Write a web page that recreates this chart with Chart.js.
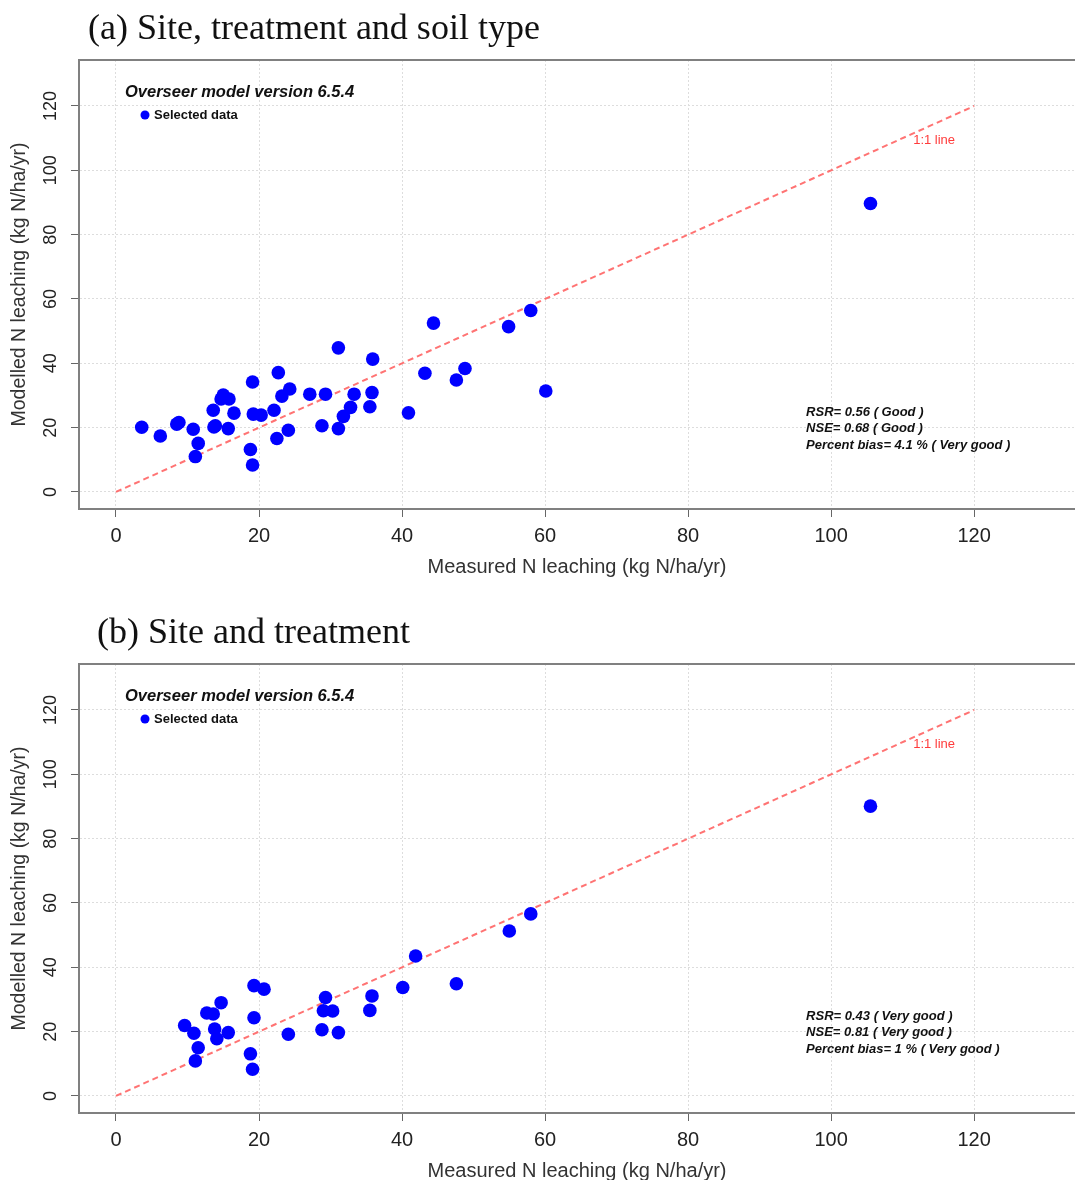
<!DOCTYPE html>
<html>
<head>
<meta charset="utf-8">
<script src="https://cdn.jsdelivr.net/npm/chart.js@4.4.1/dist/chart.umd.min.js"></script>
<style>
  html, body { margin: 0; padding: 0; background: #fff; overflow: hidden; }
  canvas { display: block; }
</style>
</head>
<body>
<canvas id="chartA" width="1075" height="604"></canvas>
<canvas id="chartB" width="1075" height="604"></canvas>
<script>
// panel (a) site, treatment and soil type
const measuredA = [3.6, 6.2, 8.5, 8.8, 10.8, 11.5, 11.1, 13.6, 13.7, 13.9, 15.0, 14.7, 15.8, 15.7, 16.5,
  19.1, 19.2, 20.3, 18.8, 19.1, 22.7, 22.1, 23.2, 24.3, 22.5, 24.1, 27.1, 29.3, 28.8, 31.1, 31.1,
  31.8, 32.8, 33.3, 35.9, 35.8, 35.5, 40.9, 43.2, 44.4, 47.6, 48.8, 54.9, 58.0, 60.1, 105.5];
const modelledA = [20.1, 17.4, 21.1, 21.6, 19.5, 15.1, 11.0, 25.4, 20.2, 20.6, 30.1, 28.9, 28.9, 19.7, 24.5,
  34.2, 24.2, 23.9, 13.2, 8.4, 37.1, 25.4, 29.8, 32.0, 16.6, 19.2, 30.4, 30.4, 20.6, 44.8, 19.7,
  23.5, 26.3, 30.4, 41.3, 30.9, 26.5, 24.6, 36.9, 52.5, 34.8, 38.4, 51.4, 56.4, 31.4, 89.7];
const statsA = ['RSR= 0.56 ( Good )', 'NSE= 0.68 ( Good )', 'Percent bias= 4.1 % ( Very good )'];

// panel (b) site and treatment
const measuredB = [9.6, 10.9, 11.5, 11.1, 12.7, 13.6, 14.7, 13.8, 14.1, 15.7, 19.3, 20.7, 19.3, 18.8, 19.1,
  24.1, 29.3, 29.0, 30.3, 28.8, 31.1, 35.8, 35.5, 40.1, 41.9, 47.6, 55.0, 58.0, 105.5];
const modelledB = [21.9, 19.5, 15.0, 10.9, 25.8, 25.5, 29.0, 20.8, 17.8, 19.7, 34.3, 33.2, 24.3, 13.1, 8.3,
  19.2, 30.6, 26.5, 26.4, 20.6, 19.7, 31.1, 26.6, 33.7, 43.5, 34.9, 51.3, 56.6, 90.1];
const statsB = ['RSR= 0.43 ( Very good )', 'NSE= 0.81 ( Very good )', 'Percent bias= 1 % ( Very good )'];

const oneToOne = [0, 120];
const xTicks = [0, 20, 40, 60, 80, 100, 120];
const yTicks = [0, 20, 40, 60, 80, 100, 120];

const sansFont = '"Liberation Sans", Arial, sans-serif';

// extra texts: panel title, box top, legend, 1:1 label and fit stats
const extras = {
  id: 'extras',
  afterDraw(chart, args, opts) {
    const { ctx, chartArea: a, scales: { x, y } } = chart;
    ctx.save();
    ctx.strokeStyle = '#808080';
    ctx.lineWidth = 2;
    ctx.beginPath();
    ctx.moveTo(a.left - 1, a.top);
    ctx.lineTo(a.right, a.top);
    ctx.stroke();

    ctx.textBaseline = 'middle';
    ctx.textAlign = 'left';
    ctx.fillStyle = '#111';
    ctx.font = '36px "Liberation Serif", "Times New Roman", serif';
    ctx.fillText(opts.title, opts.titleX, 30);

    ctx.font = 'italic bold 16.5px ' + sansFont;
    ctx.fillText('Overseer model version 6.5.4', a.left + 46, a.top + 32);
    ctx.fillStyle = '#0000ff';
    ctx.beginPath();
    ctx.arc(a.left + 66, a.top + 55, 4.5, 0, Math.PI * 2);
    ctx.fill();
    ctx.fillStyle = '#111';
    ctx.font = 'bold 13px ' + sansFont;
    ctx.fillText('Selected data', a.left + 75, a.top + 55);

    ctx.fillStyle = '#ff3b3b';
    ctx.font = '13px ' + sansFont;
    ctx.textAlign = 'center';
    ctx.fillText('1:1 line', x.getPixelForValue(114.4), y.getPixelForValue(109.4));

    ctx.fillStyle = '#111';
    ctx.textAlign = 'left';
    ctx.font = 'italic bold 13px ' + sansFont;
    opts.stats.forEach((s, i) => {
      ctx.fillText(s, x.getPixelForValue(96.5), y.getPixelForValue(24.8) + i * 16.5);
    });
    ctx.restore();
  }
};

function makeChart(id, measured, modelled, title, titleX, stats) {
  const points = measured.map((v, i) => ({ x: v, y: modelled[i] }));
  const line = oneToOne.map(v => ({ x: v, y: v }));
  return new Chart(document.getElementById(id), {
    type: 'scatter',
    data: {
      datasets: [{
        label: 'Selected data',
        data: points,
        backgroundColor: '#0000ff',
        borderWidth: 0,
        pointRadius: 6.8
      }, {
        label: '1:1 line',
        data: line,
        showLine: true,
        borderColor: 'rgba(255, 90, 90, 0.85)',
        borderWidth: 2,
        borderDash: [6, 4],
        pointRadius: 0
      }]
    },
    options: {
      responsive: false,
      animation: false,
      layout: { autoPadding: false, padding: { top: 60, left: 0, right: 0, bottom: 0 } },
      plugins: {
        legend: { display: false },
        tooltip: { enabled: false },
        extras: { title: title, titleX: titleX, stats: stats }
      },
      scales: {
        x: {
          type: 'linear',
          min: -5.17,
          max: 134.1,
          afterBuildTicks: s => { s.ticks = xTicks.map(v => ({ value: v })); },
          afterFit: s => { s.height = 95; s.paddingLeft = 0; s.paddingRight = 0; },
          ticks: { font: { family: sansFont, size: 20 }, color: '#222', padding: 7, maxRotation: 0 },
          grid: { color: '#dddddd', lineWidth: 1, tickLength: 8, tickColor: '#666', tickWidth: 1 },
          border: { color: '#808080', width: 2, dash: [2, 2] },
          title: {
            display: true,
            text: 'Measured N leaching (kg N/ha/yr)',
            font: { family: sansFont, size: 20 },
            color: '#333',
            padding: { top: 0, bottom: 25 }
          }
        },
        y: {
          type: 'linear',
          min: -5.3,
          max: 134.3,
          afterBuildTicks: s => { s.ticks = yTicks.map(v => ({ value: v })); },
          afterFit: s => { s.width = 79; s.paddingTop = 0; s.paddingBottom = 0; },
          ticks: {
            font: { family: sansFont, size: 18 }, color: '#222', padding: 5,
            minRotation: 90, maxRotation: 90, crossAlign: 'center'
          },
          grid: { color: '#dddddd', lineWidth: 1, tickLength: 8, tickColor: '#666', tickWidth: 1 },
          border: { color: '#808080', width: 2, dash: [2, 2] },
          title: {
            display: true,
            text: 'Modelled N leaching (kg N/ha/yr)',
            font: { family: sansFont, size: 19.5 },
            color: '#333',
            padding: { top: 8, bottom: 0 }
          }
        }
      }
    },
    plugins: [extras]
  });
}

makeChart('chartA', measuredA, modelledA, '(a) Site, treatment and soil type', 88, statsA);
makeChart('chartB', measuredB, modelledB, '(b) Site and treatment', 97, statsB);
</script>
</body>
</html>
